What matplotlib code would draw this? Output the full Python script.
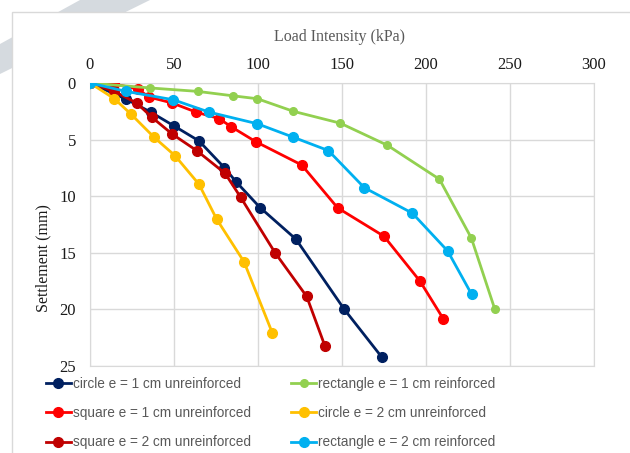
import numpy as np
import matplotlib.pyplot as plt
from matplotlib.patches import Polygon, Rectangle

# ── Data ──────────────────────────────────────────────────────
circle1_q = [0, 21.4, 36.1, 50, 64.9, 80, 86.9, 101.2, 122.6, 151.4, 173.6]
circle1_s = [0, 1.42, 2.57, 3.79, 5.12, 7.48, 8.72, 11.0, 13.8, 20.0, 24.2]

square1_q = [0, 14.5, 28.4, 35.1, 49, 63.1, 76.8, 83.9, 98.6, 126, 147.4, 175, 196.4, 210.3]
square1_s = [0, 0.09, 0.53, 1.24, 1.77, 2.57, 3.14, 3.85, 5.18, 7.24, 11.03, 13.54, 17.5, 20.83]

square2_q = [0, 14.5, 27.8, 36.7, 49, 63.5, 80.4, 89.7, 110.1, 129, 139.9]
square2_s = [0, 0.74, 1.77, 3.01, 4.52, 5.97, 7.98, 10.1, 14.98, 18.86, 23.26]

rect1_q = [0, 36, 64, 85, 99.6, 121, 149, 177, 208, 227, 241]
rect1_s = [0, 0.44, 0.74, 1.13, 1.39, 2.5, 3.55, 5.5, 8.5, 13.7, 20.0]

circle2_q = [0, 14.5, 24.2, 38.1, 50.6, 64.9, 75.4, 91.7, 108.5]
circle2_s = [0, 1.39, 2.72, 4.79, 6.42, 8.95, 12.03, 15.8, 22.07]

rect2_q = [0, 21.4, 49.6, 70.8, 99.6, 121, 141.9, 163.3, 191.9, 212.9, 227.2]
rect2_s = [0, 0.74, 1.48, 2.57, 3.6, 4.79, 5.97, 9.25, 11.5, 14.84, 18.68]

labels = ["circle e = 1 cm unreinforced", "square e = 1 cm unreinforced",
          "square e = 2 cm unreinforced", "rectangle e = 1 cm reinforced",
          "circle e = 2 cm unreinforced", "rectangle e = 2 cm reinforced"]
colors = ["#002060", "#FF0000", "#C00000", "#92D050", "#FFC000", "#00B0F0"]
series = [(circle1_q, circle1_s), (square1_q, square1_s), (square2_q, square2_s),
          (rect1_q, rect1_s), (circle2_q, circle2_s), (rect2_q, rect2_s)]
msizes = [7, 7, 7, 5.5, 7, 7]

W, H = 630, 453
fig = plt.figure(figsize=(W / 100, H / 100), dpi=100)

# ── Background decoration: watermark stripe + chart border ────
def fx(px):
    return px / W

def fy(py):
    return 1 - py / H

fig.patches.append(Polygon([(fx(80), fy(0)), (fx(150), fy(0)), (fx(0), fy(74)), (fx(0), fy(44))],
                           closed=True, transform=fig.transFigure, facecolor="#D5DADF",
                           edgecolor="none", zorder=0))
fig.patches.append(Rectangle((fx(12), fy(470)), fx(700), fy(12) - fy(470),
                             transform=fig.transFigure, facecolor="white",
                             edgecolor="#D9D9D9", linewidth=1.0, zorder=1))

ax = fig.add_axes([90 / W, 1 - 366 / H, 504 / W, 283 / H])
ax.set_zorder(2)
ax.patch.set_alpha(0)

for (q, s), c, lab, ms in zip(series, colors, labels, msizes):
    ax.plot(q, s, "-o", color=c, linewidth=2.0, markersize=ms, label=lab, zorder=3)

ax.set_xlim(0, 300)
ax.set_ylim(25, 0)
ax.set_xticks(np.arange(0, 301, 50))
ax.set_yticks(np.arange(0, 26, 5))
ax.xaxis.tick_top()
ax.xaxis.set_label_position("top")
ax.tick_params(length=0, labelsize=12, pad=10)
ax.tick_params(axis="x", pad=7)
for lbl in ax.get_xticklabels() + ax.get_yticklabels():
    lbl.set_family("Liberation Serif")
    lbl.set_color("#1a1a1a")
ax.grid(True, color="#D9D9D9", linewidth=1.0)
ax.set_axisbelow(True)
for sp in ax.spines.values():
    sp.set_color("#D9D9D9")

fig.text(fx(340), fy(37), "Load Intensity (kPa)", family="Liberation Serif", fontsize=11.5,
         color="#595959", ha="center", va="center")
fig.text(fx(43), fy(258), "Settlement (mm)", family="Liberation Serif", fontsize=11.5,
         color="#1a1a1a", ha="center", va="center", rotation=90)

ax.legend(loc="upper left", bbox_to_anchor=(fx(46), fy(377)), bbox_transform=fig.transFigure,
          ncol=2, frameon=False, handlelength=1.8, handletextpad=0.15,
          columnspacing=3.0, labelspacing=1.12, borderpad=0, borderaxespad=0,
          prop={"family": "Liberation Sans", "size": 9.8}, labelcolor="#595959")

fig.savefig("out.png", dpi=100)
